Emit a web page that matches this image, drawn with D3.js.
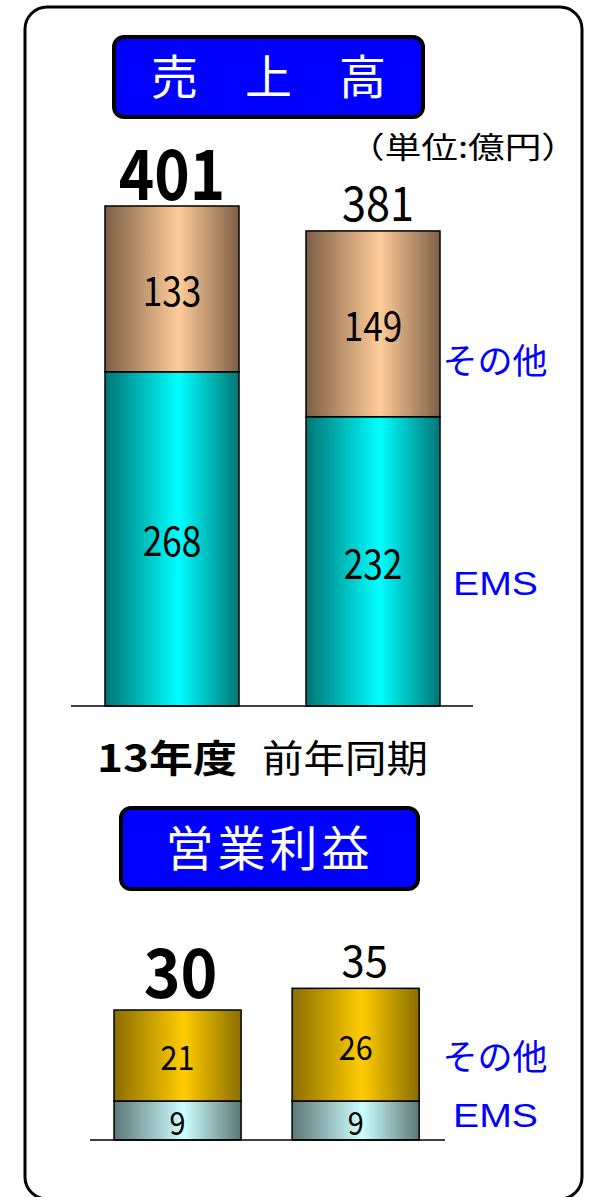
<!DOCTYPE html>
<html><head><meta charset="utf-8">
<script src="https://cdn.jsdelivr.net/npm/d3@7"></script>
<style>body{margin:0;background:#fff}svg{display:block}</style>
</head><body>
<script>
const categories = ["13年度", "前年同期"];
const salesEMS = [268, 232];
const salesOther = [133, 149];
const salesTotal = [401, 381];
const profitEMS = [9, 9];
const profitOther = [21, 26];
const profitTotal = [30, 35];
const seriesNames = ["EMS", "その他"];
const titles = ["売　上　高", "営業利益"];
const unitLabel = "（単位:億円）";

const W = 589, H = 1197;
const svg = d3.select("body").append("svg").attr("width", W).attr("height", H);
const JP = "'Noto Sans CJK JP', 'Noto Sans', sans-serif";
const NUM = "'Noto Sans CJK JP', sans-serif";

const defs = svg.append("defs");
function grad(id, edge, mid) {
  const g = defs.append("linearGradient").attr("id", id).attr("x1", "0%").attr("x2", "100%").attr("y1", "0").attr("y2", "0");
  g.append("stop").attr("offset", "0%").attr("stop-color", edge);
  g.append("stop").attr("offset", "55%").attr("stop-color", mid);
  g.append("stop").attr("offset", "100%").attr("stop-color", edge);
}
grad("gBrown", "#7d5f47", "#ffcc99");
grad("gCyan", "#007575", "#00ffff");
grad("gGold", "#8a6e00", "#ffcc00");
grad("gLight", "#5e7777", "#ccffff");

// outer frame
svg.append("rect").attr("x", 25).attr("y", 7).attr("width", 557).attr("height", 1192)
  .attr("rx", 22).attr("fill", "#fff").attr("stroke", "#000").attr("stroke-width", 3);

function titleBox(x, y, w, h, text, size, ls) {
  svg.append("rect").attr("x", x).attr("y", y).attr("width", w).attr("height", h).attr("rx", 10)
    .attr("fill", "#0000ff").attr("stroke", "#000").attr("stroke-width", 4);
  svg.append("text").attr("x", x + w / 2).attr("y", y + h / 2 + size * 0.36).attr("text-anchor", "middle")
    .attr("font-family", JP).attr("font-size", size).attr("letter-spacing", ls).attr("fill", "#fff").text(text);
}
titleBox(114, 37, 309, 80, titles[0], 47, 0);
titleBox(121, 808, 297, 81, titles[1], 48, 4);

svg.append("text").attr("x", 348).attr("y", 158)
  .attr("font-family", JP).attr("font-size", 30).attr("textLength", 230).attr("lengthAdjust", "spacingAndGlyphs")
  .attr("fill", "#000").text(unitLabel);

// number helper: horizontally compressed text anchored at (x, baseline)
function num(g, x, y, t, size, sx, bold) {
  g.append("text").attr("transform", `translate(${x},${y}) scale(${sx},1)`)
    .attr("text-anchor", "middle").attr("font-family", NUM)
    .attr("font-weight", bold ? "bold" : "normal").attr("font-size", size).text(t);
}

function chart(cfg) {
  const x = d3.scaleBand().domain(categories).range(cfg.xr).paddingInner(cfg.padIn).paddingOuter(cfg.padOut);
  const y = d3.scaleLinear().domain([0, cfg.max]).range([cfg.base, cfg.top]);
  const g = svg.append("g");
  categories.forEach((c, i) => {
    const bx = x(c), bw = x.bandwidth();
    const e = cfg.ems[i], o = cfg.other[i];
    g.append("rect").attr("x", bx).attr("y", y(e)).attr("width", bw).attr("height", y(0) - y(e))
      .attr("fill", `url(#${cfg.gE})`).attr("stroke", "#000").attr("stroke-width", 1.5);
    g.append("rect").attr("x", bx).attr("y", y(e + o)).attr("width", bw).attr("height", y(e) - y(e + o))
      .attr("fill", `url(#${cfg.gO})`).attr("stroke", "#000").attr("stroke-width", 1.5);
    const cx = bx + bw / 2;
    num(g, cx, (y(0) + y(e)) / 2 + 2.5 + cfg.eSize * 0.366, e, cfg.eSize, cfg.inSx, false);
    num(g, cx, (y(e) + y(e + o)) / 2 + 2.5 + cfg.inSize * 0.366, o, cfg.inSize, cfg.inSx, false);
    const big = i === 0;
    num(g, cx + cfg.totDx[i], y(cfg.total[i]) - (big ? cfg.bigGap : cfg.totGap), cfg.total[i],
      big ? cfg.bigSize : cfg.totSize, big ? cfg.bigSx : cfg.totSx, big);
  });
  g.append("line").attr("x1", cfg.lx[0]).attr("x2", cfg.lx[1]).attr("y1", cfg.base).attr("y2", cfg.base)
    .attr("stroke", "#000").attr("stroke-width", 1.5);
  g.append("text").attr("x", cfg.legX).attr("y", cfg.legY[1]).attr("text-anchor", "middle")
    .attr("font-family", JP).attr("font-size", 35).attr("fill", "#0000ff").text(seriesNames[1]);
  g.append("text").attr("x", cfg.legX - 42).attr("y", cfg.legY[0])
    .attr("font-family", "'Liberation Sans', Arial, sans-serif").attr("font-size", 33)
    .attr("textLength", 85).attr("lengthAdjust", "spacingAndGlyphs").attr("fill", "#0000ff").text(seriesNames[0]);
  return x;
}

chart({xr: [4.5, 540.5], padIn: 1 / 3, padOut: 0.5, max: 401, base: 706, top: 206,
  ems: salesEMS, other: salesOther, total: salesTotal, gE: "gCyan", gO: "gBrown",
  inSize: 40, eSize: 40, inSx: 0.88, bigSize: 70, bigSx: 0.86, bigGap: 6, totSize: 48, totSx: 0.9, totGap: 10,
  totDx: [0, 5], lx: [71, 473], legX: 495, legY: [595, 374]});

chart({xr: [25, 508.2], padIn: 0.2865, padOut: 0.5, max: 30, base: 1140, top: 1010,
  ems: profitEMS, other: profitOther, total: profitTotal, gE: "gLight", gO: "gGold",
  inSize: 34, eSize: 32, inSx: 0.9, bigSize: 68, bigSx: 0.92, bigGap: 12, totSize: 44, totSx: 0.95, totGap: 11,
  totDx: [3, 9], lx: [90, 445], legX: 495, legY: [1127, 1070]});

// category labels
svg.append("text").attr("x", 97).attr("y", 772)
  .attr("font-family", JP).attr("font-weight", "bold").attr("font-size", 38)
  .attr("textLength", 140).attr("lengthAdjust", "spacingAndGlyphs").text(categories[0]);
svg.append("text").attr("x", 262).attr("y", 772)
  .attr("font-family", JP).attr("font-weight", "normal").attr("font-size", 38)
  .attr("textLength", 166).attr("lengthAdjust", "spacingAndGlyphs").text(categories[1]);
</script>
</body></html>
